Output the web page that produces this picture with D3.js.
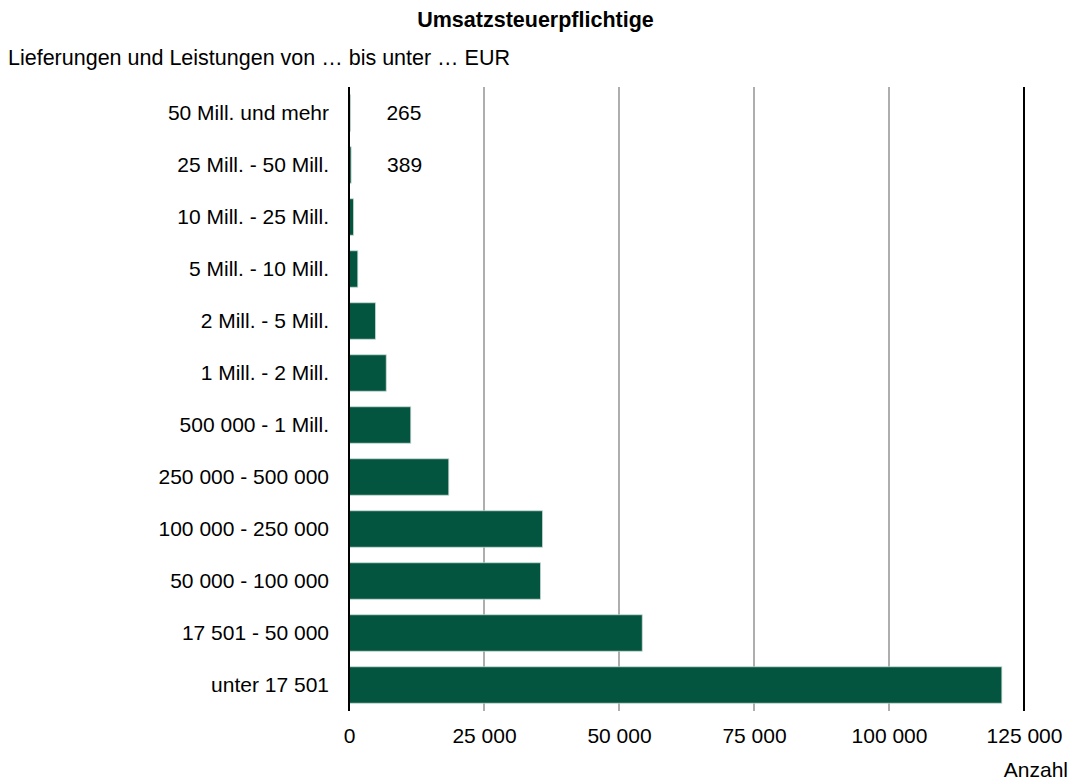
<!DOCTYPE html>
<html>
<head>
<meta charset="utf-8">
<script src="https://cdn.jsdelivr.net/npm/d3@7"></script>
<style>
  body { margin: 0; background: #fff; }
  text { font-family: "Liberation Sans", Arial, sans-serif; fill: #000; }
</style>
</head>
<body>
<div id="chart"></div>
<script>
// categories top to bottom
let categories = ["50 Mill. und mehr", "25 Mill. - 50 Mill.", "10 Mill. - 25 Mill.", "5 Mill. - 10 Mill.",
    "2 Mill. - 5 Mill.", "1 Mill. - 2 Mill.", "500 000 - 1 Mill.", "250 000 - 500 000",
    "100 000 - 250 000", "50 000 - 100 000", "17 501 - 50 000", "unter 17 501"];
let counts = [265, 389, 830, 1630, 4900, 6890, 11440, 18480, 35830, 35460, 54300, 120900];
let xTicks = [0, 25000, 50000, 75000, 100000, 125000];

const WIDTH = 1071, HEIGHT = 781;
let margin = {top: 87, right: 47, bottom: 70, left: 349};

let svg = d3.select("#chart")
    .append("svg")
    .attr("width", WIDTH)
    .attr("height", HEIGHT);

let locale = d3.formatLocale({decimal: ",", thousands: " ", grouping: [3], currency: ["", " €"]});
let fmt = locale.format(",d");

let x = d3.scaleLinear()
    .domain([0, 125000])
    .range([margin.left, WIDTH - margin.right]);
let y = d3.scaleBand()
    .domain(categories)
    .range([margin.top, HEIGHT - margin.bottom])
    .paddingInner(0.3)
    .paddingOuter(0.15);

let bottomY = HEIGHT - margin.bottom;

// gridlines (last one is the black frame line)
svg.append("g")
    .selectAll("line")
    .data(xTicks.slice(1))
    .enter()
    .append("line")
    .attr("x1", d => x(d))
    .attr("x2", d => x(d))
    .attr("y1", margin.top)
    .attr("y2", bottomY)
    .attr("stroke", (d, i) => i === xTicks.length - 2 ? "#000" : "#9a9a9a")
    .attr("stroke-width", (d, i) => i === xTicks.length - 2 ? 2 : 1.6);

// bars
svg.append("g")
    .selectAll("rect")
    .data(categories)
    .enter()
    .append("rect")
    .attr("x", x(0))
    .attr("y", d => y(d))
    .attr("width", (d, i) => x(counts[i]) - x(0))
    .attr("height", y.bandwidth())
    .attr("fill", "#03553f")
    .attr("stroke", "#c4d6d0")
    .attr("stroke-width", 0.8);

// value labels for the tiny bars
svg.append("g")
    .selectAll("text")
    .data(categories.filter((d, i) => counts[i] < 500))
    .enter()
    .append("text")
    .attr("x", d => x(counts[categories.indexOf(d)]) + 36)
    .attr("y", d => y(d) + y.bandwidth() / 2)
    .attr("dy", "0.35em")
    .style("font-size", "21px")
    .text(d => fmt(counts[categories.indexOf(d)]));

// x axis
let xAxis = svg.append("g")
    .attr("transform", `translate(0,${bottomY})`)
    .call(d3.axisBottom(x).tickValues(xTicks).tickFormat(fmt).tickSize(0).tickPadding(17));
xAxis.select(".domain").remove();
xAxis.selectAll("text").style("font-size", "21px").attr("fill", "#000");

// y axis
let yAxis = svg.append("g")
    .attr("transform", `translate(${x(0)},0)`)
    .call(d3.axisLeft(y).tickSize(0).tickSizeOuter(0).tickPadding(20));
yAxis.select(".domain")
    .attr("d", `M0,${margin.top}V${bottomY}`)
    .attr("stroke", "#000")
    .attr("stroke-width", 2);
yAxis.selectAll("text").style("font-size", "21px").attr("fill", "#000");

// titles
svg.append("text")
    .attr("x", WIDTH / 2)
    .attr("y", 27)
    .style("text-anchor", "middle")
    .style("font-size", "21.5px")
    .style("font-weight", "bold")
    .text("Umsatzsteuerpflichtige");

svg.append("text")
    .attr("x", 8)
    .attr("y", 65)
    .style("font-size", "21.5px")
    .text("Lieferungen und Leistungen von … bis unter … EUR");

svg.append("text")
    .attr("x", 1068)
    .attr("y", 777)
    .style("text-anchor", "end")
    .style("font-size", "21px")
    .text("Anzahl");
</script>
</body>
</html>
